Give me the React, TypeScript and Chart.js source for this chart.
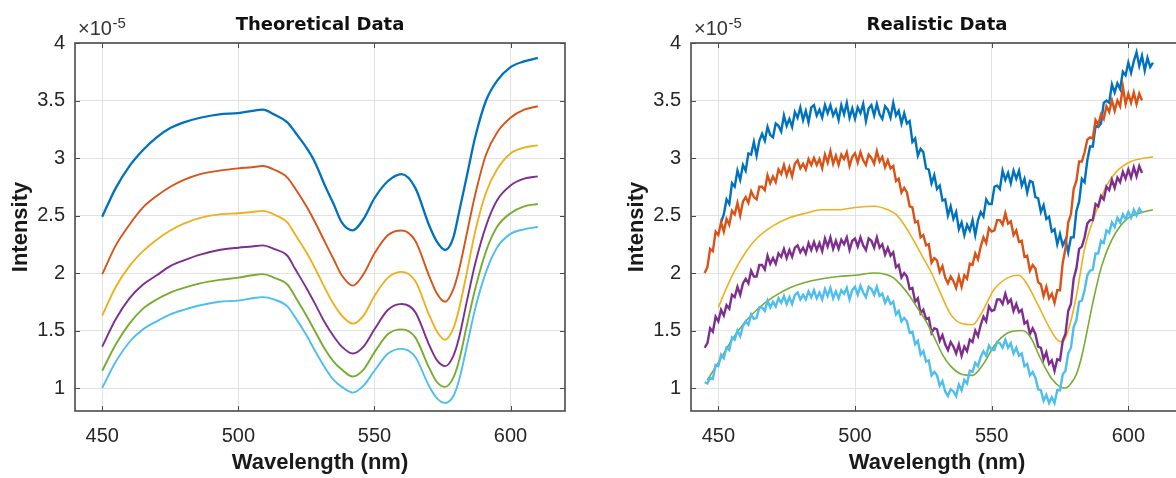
import React, { useEffect, useRef } from "react";
import { Chart, registerables } from "chart.js";

Chart.register(...registerables);

// ---------------- axes ----------------
const X_TICKS = [450, 500, 550, 600];
const Y_TICKS = [1, 1.5, 2, 2.5, 3, 3.5, 4];
const X_MIN = 440;
const X_MAX = 620;
const Y_MIN = 0.8;
const Y_MAX = 4;

const SERIES_COLORS = ["#0072BD", "#D95319", "#EDB120", "#7E2F8E", "#77AC30", "#4DBEEE"];

// ---------------- Theoretical data (intensity in units of 1e-5) ----------------
const THEO_WL = [450, 455, 460, 465, 470, 475, 480, 486, 493, 500, 505, 509, 513, 518, 521, 525, 528, 532, 535, 538, 542, 546, 550, 555, 560, 565, 570, 573, 576, 579, 581, 584, 587, 591, 595, 600, 605, 610];
const THEO_1 = [2.49, 2.74, 2.93, 3.07, 3.18, 3.26, 3.31, 3.35, 3.38, 3.39, 3.41, 3.42, 3.38, 3.31, 3.22, 3.09, 2.97, 2.75, 2.60, 2.44, 2.37, 2.47, 2.65, 2.80, 2.86, 2.74, 2.42, 2.27, 2.20, 2.31, 2.52, 2.85, 3.18, 3.50, 3.67, 3.79, 3.84, 3.87];
const THEO_2 = [1.99, 2.24, 2.42, 2.57, 2.67, 2.75, 2.81, 2.86, 2.89, 2.91, 2.92, 2.93, 2.90, 2.83, 2.73, 2.58, 2.45, 2.26, 2.12, 1.98, 1.89, 1.99, 2.17, 2.33, 2.37, 2.28, 1.98, 1.82, 1.75, 1.86, 2.02, 2.35, 2.68, 3.03, 3.22, 3.35, 3.42, 3.45];
const THEO_3 = [1.63, 1.88, 2.06, 2.19, 2.29, 2.37, 2.43, 2.48, 2.51, 2.52, 2.53, 2.54, 2.51, 2.44, 2.33, 2.18, 2.05, 1.86, 1.73, 1.63, 1.56, 1.63, 1.80, 1.96, 2.01, 1.93, 1.64, 1.49, 1.42, 1.52, 1.68, 2.01, 2.36, 2.70, 2.90, 3.04, 3.09, 3.11];
const THEO_4 = [1.36, 1.60, 1.78, 1.90, 1.98, 2.06, 2.11, 2.16, 2.20, 2.22, 2.23, 2.24, 2.21, 2.15, 2.03, 1.87, 1.74, 1.56, 1.45, 1.36, 1.30, 1.36, 1.51, 1.68, 1.73, 1.66, 1.38, 1.24, 1.19, 1.28, 1.43, 1.76, 2.08, 2.41, 2.63, 2.76, 2.82, 2.84];
const THEO_5 = [1.15, 1.38, 1.56, 1.69, 1.77, 1.83, 1.87, 1.91, 1.94, 1.96, 1.98, 1.99, 1.96, 1.90, 1.79, 1.63, 1.50, 1.33, 1.23, 1.16, 1.10, 1.16, 1.31, 1.47, 1.51, 1.44, 1.18, 1.05, 1.01, 1.09, 1.23, 1.55, 1.86, 2.19, 2.40, 2.52, 2.58, 2.60];
const THEO_6 = [1.00, 1.23, 1.40, 1.51, 1.58, 1.64, 1.68, 1.72, 1.75, 1.76, 1.78, 1.79, 1.77, 1.71, 1.61, 1.46, 1.33, 1.17, 1.07, 1.01, 0.96, 1.02, 1.15, 1.30, 1.34, 1.27, 1.02, 0.91, 0.87, 0.93, 1.06, 1.37, 1.69, 2.01, 2.22, 2.34, 2.38, 2.40];

// ---------------- Realistic data (intensity in units of 1e-5) ----------------
// noisy series, sampled every 1 nm from their start wavelength
const REAL_STEP_NM = 1;
const REAL_1_START = 451;
const REAL_1 = [
  2.44, 2.51, 2.64, 2.60, 2.78, 2.75, 2.89, 2.81, 2.94, 2.89,
  3.04, 3.03, 3.14, 3.02, 3.15, 3.21, 3.15, 3.27, 3.20, 3.18,
  3.30, 3.28, 3.23, 3.37, 3.28, 3.34, 3.27, 3.40, 3.35, 3.44,
  3.33, 3.41, 3.31, 3.44, 3.46, 3.37, 3.42, 3.35, 3.46, 3.39,
  3.46, 3.37, 3.42, 3.33, 3.46, 3.38, 3.48, 3.35, 3.43, 3.34,
  3.44, 3.39, 3.47, 3.32, 3.43, 3.46, 3.37, 3.47, 3.38, 3.34,
  3.45, 3.42, 3.35, 3.48, 3.37, 3.41, 3.30, 3.39, 3.30, 3.32,
  3.14, 3.17, 3.02, 3.08, 3.05, 2.91, 2.90, 2.78, 2.85, 2.73,
  2.76, 2.63, 2.64, 2.50, 2.58, 2.47, 2.53, 2.38, 2.44, 2.33,
  2.42, 2.37, 2.46, 2.33, 2.46, 2.53, 2.49, 2.64, 2.60, 2.60,
  2.75, 2.76, 2.73, 2.89, 2.81, 2.87, 2.78, 2.89, 2.82, 2.89,
  2.76, 2.82, 2.70, 2.80, 2.79, 2.66, 2.65, 2.53, 2.59, 2.47,
  2.49, 2.36, 2.38, 2.25, 2.34, 2.24, 2.29, 2.18, 2.31, 2.31,
  2.54, 2.62, 2.82, 2.79, 2.98, 3.10, 3.10, 3.28, 3.27, 3.30,
  3.48, 3.50, 3.48, 3.64, 3.57, 3.65, 3.60, 3.75, 3.72, 3.83,
  3.74, 3.84, 3.92, 3.80, 3.89, 3.76, 3.87, 3.79, 3.83,
];
const REAL_2_START = 445;
const REAL_2 = [
  2.00, 2.05, 2.21, 2.19, 2.36, 2.33, 2.44, 2.36, 2.47, 2.42,
  2.54, 2.51, 2.61, 2.50, 2.62, 2.66, 2.61, 2.71, 2.66, 2.64,
  2.75, 2.75, 2.72, 2.85, 2.78, 2.84, 2.79, 2.90, 2.86, 2.94,
  2.85, 2.92, 2.84, 2.95, 2.98, 2.91, 2.95, 2.90, 2.99, 2.94,
  3.00, 2.94, 2.99, 2.91, 3.03, 2.96, 3.06, 2.95, 3.02, 2.94,
  3.03, 2.99, 3.05, 2.93, 3.01, 3.04, 2.96, 3.05, 2.98, 2.94,
  3.03, 3.00, 2.95, 3.06, 2.97, 3.01, 2.92, 2.98, 2.91, 2.93,
  2.80, 2.82, 2.70, 2.74, 2.70, 2.58, 2.57, 2.44, 2.45, 2.31,
  2.33, 2.24, 2.25, 2.09, 2.13, 2.11, 2.01, 2.06, 1.96, 1.91,
  1.97, 1.93, 1.87, 1.97, 1.88, 1.98, 1.95, 2.08, 2.07, 2.17,
  2.12, 2.23, 2.31, 2.26, 2.39, 2.36, 2.37, 2.46, 2.46, 2.42,
  2.52, 2.43, 2.45, 2.33, 2.37, 2.27, 2.28, 2.14, 2.15, 2.02,
  2.07, 2.04, 1.92, 1.90, 1.80, 1.88, 1.78, 1.82, 1.74, 1.85,
  1.85, 2.09, 2.21, 2.44, 2.51, 2.73, 2.80, 2.97, 2.97, 3.05,
  3.16, 3.18, 3.17, 3.33, 3.29, 3.38, 3.34, 3.45, 3.40, 3.50,
  3.41, 3.50, 3.45, 3.62, 3.47, 3.56, 3.48, 3.57, 3.47, 3.56,
  3.50,
];
const REAL_4_START = 445;
const REAL_4 = [
  1.35, 1.39, 1.52, 1.49, 1.62, 1.58, 1.68, 1.63, 1.72, 1.69,
  1.81, 1.79, 1.88, 1.81, 1.91, 1.95, 1.91, 2.02, 1.97, 1.97,
  2.07, 2.07, 2.03, 2.15, 2.08, 2.13, 2.08, 2.17, 2.14, 2.21,
  2.13, 2.20, 2.14, 2.22, 2.24, 2.18, 2.22, 2.17, 2.26, 2.20,
  2.27, 2.20, 2.26, 2.19, 2.30, 2.23, 2.31, 2.21, 2.28, 2.21,
  2.29, 2.25, 2.31, 2.20, 2.28, 2.30, 2.23, 2.31, 2.24, 2.20,
  2.30, 2.28, 2.22, 2.31, 2.22, 2.25, 2.16, 2.22, 2.15, 2.18,
  2.05, 2.07, 1.96, 2.00, 1.97, 1.86, 1.87, 1.75, 1.78, 1.65,
  1.68, 1.60, 1.61, 1.48, 1.52, 1.51, 1.41, 1.46, 1.38, 1.33,
  1.40, 1.36, 1.30, 1.38, 1.28, 1.36, 1.32, 1.42, 1.40, 1.50,
  1.45, 1.55, 1.62, 1.58, 1.71, 1.67, 1.68, 1.77, 1.77, 1.73,
  1.82, 1.74, 1.77, 1.67, 1.73, 1.66, 1.68, 1.56, 1.58, 1.47,
  1.52, 1.47, 1.36, 1.35, 1.25, 1.31, 1.21, 1.24, 1.15, 1.25,
  1.24, 1.41, 1.47, 1.67, 1.73, 1.95, 2.04, 2.21, 2.23, 2.31,
  2.43, 2.46, 2.46, 2.60, 2.58, 2.67, 2.64, 2.75, 2.72, 2.81,
  2.74, 2.83, 2.79, 2.88, 2.82, 2.90, 2.83, 2.92, 2.84, 2.93,
  2.87,
];
const REAL_6_START = 445;
const REAL_6 = [
  1.05, 1.04, 1.09, 1.08, 1.20, 1.19, 1.29, 1.26, 1.35, 1.33,
  1.44, 1.42, 1.50, 1.45, 1.54, 1.58, 1.55, 1.64, 1.60, 1.61,
  1.70, 1.70, 1.67, 1.76, 1.70, 1.75, 1.71, 1.78, 1.74, 1.80,
  1.73, 1.79, 1.73, 1.81, 1.83, 1.77, 1.81, 1.77, 1.84, 1.79,
  1.85, 1.78, 1.83, 1.77, 1.86, 1.80, 1.87, 1.78, 1.84, 1.78,
  1.85, 1.82, 1.87, 1.77, 1.85, 1.88, 1.81, 1.89, 1.83, 1.79,
  1.88, 1.86, 1.81, 1.88, 1.80, 1.82, 1.74, 1.79, 1.73, 1.75,
  1.64, 1.67, 1.58, 1.61, 1.58, 1.48, 1.49, 1.38, 1.41, 1.29,
  1.32, 1.23, 1.24, 1.11, 1.14, 1.11, 1.02, 1.06, 0.97, 0.93,
  0.99, 0.97, 0.93, 1.03, 0.98, 1.07, 1.04, 1.15, 1.14, 1.22,
  1.19, 1.27, 1.32, 1.28, 1.37, 1.33, 1.33, 1.40, 1.39, 1.35,
  1.42, 1.35, 1.39, 1.30, 1.35, 1.28, 1.30, 1.19, 1.21, 1.11,
  1.14, 1.09, 0.99, 0.98, 0.89, 0.94, 0.87, 0.92, 0.87, 0.98,
  0.98, 1.12, 1.15, 1.30, 1.35, 1.53, 1.59, 1.75, 1.76, 1.85,
  1.98, 2.02, 2.03, 2.17, 2.17, 2.28, 2.26, 2.37, 2.35, 2.44,
  2.40, 2.48, 2.44, 2.51, 2.47, 2.53, 2.48, 2.55, 2.50, 2.56,
  2.52,
];
// smooth series in the realistic panel
const REAL_3_WL = [450, 453, 456, 460, 464, 470, 476, 482, 488, 494, 500, 507, 512, 515, 518, 522, 525, 528, 531, 535, 539, 543, 546, 551, 556, 560, 563, 567, 571, 574, 576, 578, 581, 584, 588, 592, 596, 601, 606, 609];
const REAL_3 = [1.70, 1.87, 2.02, 2.18, 2.30, 2.41, 2.48, 2.52, 2.55, 2.55, 2.57, 2.58, 2.55, 2.51, 2.42, 2.26, 2.13, 2.00, 1.84, 1.64, 1.56, 1.55, 1.64, 1.86, 1.96, 1.98, 1.90, 1.72, 1.53, 1.42, 1.40, 1.50, 1.80, 2.21, 2.52, 2.76, 2.89, 2.97, 3.00, 3.01];
const REAL_5_WL = [446, 450, 455, 460, 465, 470, 476, 482, 488, 494, 500, 507, 511, 514, 517, 520, 523, 526, 529, 532, 535, 539, 543, 547, 551, 556, 561, 564, 568, 572, 575, 577, 579, 581, 583, 587, 590, 594, 599, 604, 609];
const REAL_5 = [1.07, 1.22, 1.42, 1.58, 1.70, 1.79, 1.87, 1.92, 1.95, 1.97, 1.98, 2.00, 1.99, 1.96, 1.89, 1.80, 1.69, 1.58, 1.44, 1.29, 1.19, 1.12, 1.11, 1.21, 1.37, 1.48, 1.50, 1.45, 1.25, 1.08, 1.01, 1.00, 1.04, 1.12, 1.28, 1.74, 2.04, 2.29, 2.46, 2.52, 2.55];

// ---------------- styling ----------------
const AXIS_COLOR = "#4a4a4a";
const GRID_COLOR = "#e2e2e2";
const TEXT_COLOR = "#262626";
const SANS = '"Liberation Sans", Arial, Helvetica, sans-serif';
const TICK_LEN = 5;

const pairs = (xs: number[], ys: number[]) => ys.map((y, i) => ({ x: xs[i], y }));
const sampled = (start: number, ys: number[]) => ys.map((y, i) => ({ x: start + i * REAL_STEP_NM, y }));

const framePlugin = {
  id: "frame",
  afterDraw(chart: any, _args: any, opts: any) {
    const { ctx, chartArea } = chart;
    const { left, right, top, bottom } = chartArea;
    const xs = chart.scales.x;
    const ys = chart.scales.y;
    ctx.save();
    // inward tick marks on all four sides
    ctx.strokeStyle = AXIS_COLOR;
    ctx.lineWidth = 1;
    ctx.beginPath();
    for (const v of X_TICKS) {
      const p = Math.round(xs.getPixelForValue(v)) + 0.5;
      ctx.moveTo(p, bottom);
      ctx.lineTo(p, bottom - TICK_LEN);
      ctx.moveTo(p, top);
      ctx.lineTo(p, top + TICK_LEN);
    }
    for (const v of Y_TICKS) {
      const p = Math.round(ys.getPixelForValue(v)) + 0.5;
      ctx.moveTo(left, p);
      ctx.lineTo(left + TICK_LEN, p);
      ctx.moveTo(right, p);
      ctx.lineTo(right - TICK_LEN, p);
    }
    ctx.stroke();
    // box
    ctx.lineWidth = 1.6;
    ctx.strokeRect(left, top, right - left, bottom - top);

    const cx = (left + right) / 2;
    // title
    ctx.fillStyle = "#111";
    ctx.font = 'bold 18px "DejaVu Sans", sans-serif';
    ctx.textAlign = "center";
    ctx.textBaseline = "alphabetic";
    ctx.fillText(opts.title, cx, top - 13.5);
    // x label
    ctx.fillStyle = "#1a1a1a";
    ctx.font = `bold 22px ${SANS}`;
    ctx.fillText(opts.xLabel, cx, bottom + 57.5);
    // y label
    ctx.save();
    ctx.translate(left - 48.5, (top + bottom) / 2);
    ctx.rotate(-Math.PI / 2);
    ctx.textAlign = "center";
    ctx.textBaseline = "alphabetic";
    ctx.fillText(opts.yLabel, 0, 0);
    ctx.restore();
    // exponent
    ctx.fillStyle = "#333";
    ctx.textAlign = "left";
    ctx.font = `20px ${SANS}`;
    const base = "\u00d710";
    ctx.fillText(base, left + 3, top - 8);
    const w = ctx.measureText(base).width;
    ctx.font = `15px ${SANS}`;
    ctx.fillText(opts.exponent, left + 3 + w + 0.5, top - 15.5);
    ctx.restore();
  },
};

function makeConfig(datasets: any[], title: string, padLeft: number, padRight: number): any {
  return {
    type: "line",
    data: { datasets },
    plugins: [framePlugin],
    options: {
      animation: false,
      responsive: false,
      events: [],
      layout: { padding: { left: padLeft, right: padRight, top: 43, bottom: 0 } },
      elements: { point: { radius: 0 } },
      plugins: {
        legend: { display: false },
        tooltip: { enabled: false },
        title: { display: false },
        frame: { title, xLabel: "Wavelength (nm)", yLabel: "Intensity", exponent: "-5" },
      },
      scales: {
        x: {
          type: "linear",
          min: X_MIN,
          max: X_MAX,
          afterBuildTicks: (s: any) => {
            s.ticks = X_TICKS.map((v) => ({ value: v }));
          },
          afterFit: (s: any) => {
            s.height = 67;
          },
          grid: { color: GRID_COLOR, lineWidth: 1, drawTicks: false },
          border: { display: false },
          ticks: {
            color: TEXT_COLOR,
            padding: 13,
            font: { family: SANS, size: 20 },
            maxRotation: 0,
            callback: (v: any) => String(v),
          },
        },
        y: {
          type: "linear",
          min: Y_MIN,
          max: Y_MAX,
          afterBuildTicks: (s: any) => {
            s.ticks = Y_TICKS.map((v) => ({ value: v }));
          },
          afterFit: (s: any) => {
            s.width = 75;
          },
          grid: { color: GRID_COLOR, lineWidth: 1, drawTicks: false },
          border: { display: false },
          ticks: {
            color: TEXT_COLOR,
            padding: 10,
            font: { family: SANS, size: 20 },
            callback: (v: any) => String(v),
          },
        },
      },
    },
  };
}

function smoothSet(data: any[], color: string, idx: number, width: number) {
  return {
    data,
    borderColor: color,
    backgroundColor: color,
    borderWidth: width,
    cubicInterpolationMode: "monotone",
    fill: false,
    order: 10 - idx,
  };
}
function noisySet(data: any[], color: string, idx: number, width: number) {
  return {
    data,
    borderColor: color,
    backgroundColor: color,
    borderWidth: width,
    tension: 0,
    fill: false,
    order: 10 - idx,
  };
}

export default function App() {
  const leftRef = useRef<HTMLCanvasElement | null>(null);
  const rightRef = useRef<HTMLCanvasElement | null>(null);

  useEffect(() => {
    const theo = [THEO_1, THEO_2, THEO_3, THEO_4, THEO_5, THEO_6].map((ys, i) =>
      smoothSet(pairs(THEO_WL, ys), SERIES_COLORS[i], i, i === 0 ? 2.3 : 1.9)
    );
    const real = [
      noisySet(sampled(REAL_1_START, REAL_1), SERIES_COLORS[0], 0, 2.4),
      noisySet(sampled(REAL_2_START, REAL_2), SERIES_COLORS[1], 1, 2.4),
      smoothSet(pairs(REAL_3_WL, REAL_3), SERIES_COLORS[2], 2, 1.6),
      noisySet(sampled(REAL_4_START, REAL_4), SERIES_COLORS[3], 3, 2.4),
      smoothSet(pairs(REAL_5_WL, REAL_5), SERIES_COLORS[4], 4, 1.6),
      noisySet(sampled(REAL_6_START, REAL_6), SERIES_COLORS[5], 5, 2.4),
    ];
    const c1 = new Chart(leftRef.current as HTMLCanvasElement, makeConfig(theo, "Theoretical Data", 0, 35));
    const c2 = new Chart(rightRef.current as HTMLCanvasElement, makeConfig(real, "Realistic Data", 16, 17));
    return () => {
      c1.destroy();
      c2.destroy();
    };
  }, []);

  return (
    <div
      style={{
        position: "absolute",
        left: 0,
        top: 0,
        width: 1176,
        height: 478,
        overflow: "hidden",
        background: "#ffffff",
      }}
    >
      <canvas
        ref={leftRef}
        width={600}
        height={478}
        style={{ position: "absolute", left: 0, top: 0, width: 600, height: 478 }}
      />
      <canvas
        ref={rightRef}
        width={600}
        height={478}
        style={{ position: "absolute", left: 600, top: 0, width: 600, height: 478 }}
      />
    </div>
  );
}
